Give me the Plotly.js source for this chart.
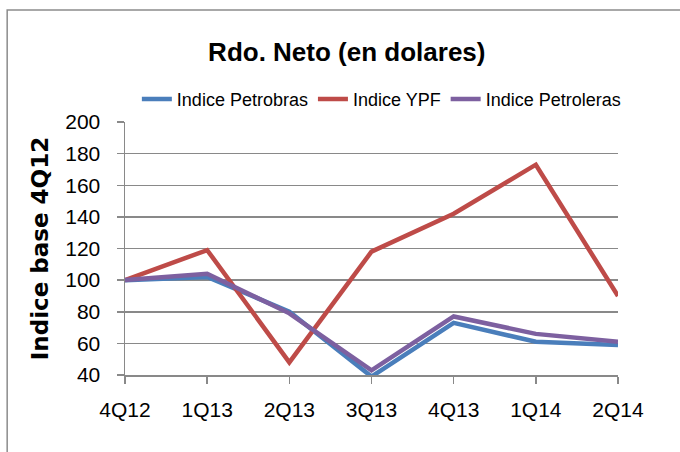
<!DOCTYPE html>
<html>
<head>
<meta charset="utf-8">
<script src="https://cdn.plot.ly/plotly-3.0.1.min.js"></script>
<style>
  html, body { margin: 0; padding: 0; background: #fff; }
  #chart { width: 680px; height: 452px; }
</style>
</head>
<body>
<div id="chart"></div>
<script>
const categories = ['4Q12', '1Q13', '2Q13', '3Q13', '4Q13', '1Q14', '2Q14'];
const petrobras  = [100, 102, 80, 39, 73, 61, 59];
const ypf        = [100, 119, 48, 118, 142, 173, 90];
const petroleras = [100, 104, 79, 43, 77, 66, 61];
const seriesNames = ['Indice Petrobras', 'Indice YPF', 'Indice Petroleras'];
const yTicks = [40, 60, 80, 100, 120, 140, 160, 180, 200];

const SANS = '"Liberation Sans", Arial, sans-serif';
const colors = ['#4A7EBB', '#BE4B48', '#7D60A0'];

const traces = [petrobras, ypf, petroleras].map((vals, i) => ({
  type: 'scatter',
  mode: 'lines',
  x: categories,
  y: vals,
  name: seriesNames[i],
  line: { color: colors[i], width: 4.5 },
  hoverinfo: 'skip'
}));

const layout = {
  width: 680,
  height: 452,
  margin: { l: 125, r: 62, t: 122, b: 77 },
  paper_bgcolor: '#ffffff',
  plot_bgcolor: '#ffffff',
  showlegend: true,
  title: {
    text: 'Rdo. Neto (en dolares)',
    font: { family: SANS, size: 26, color: '#000', weight: 'bold' },
    xref: 'container', x: 0.51, xanchor: 'center',
    yref: 'container', y: 0.885, yanchor: 'middle'
  },
  legend: {
    orientation: 'h',
    x: 0.52, xanchor: 'center',
    y: 1.09, yanchor: 'middle',
    font: { family: SANS, size: 18, color: '#000' },
    itemwidth: 30,
    itemgap: 12,
    traceorder: 'normal',
    bgcolor: 'rgba(0,0,0,0)'
  },
  xaxis: {
    type: 'category',
    range: [0, 6],
    showgrid: false,
    showline: true,
    linecolor: '#898989',
    linewidth: 1.5,
    ticks: 'outside',
    ticklen: 7,
    tickwidth: 1.5,
    tickcolor: '#898989',
    ticklabelstandoff: 8,
    tickfont: { family: SANS, size: 21, color: '#000' },
    fixedrange: true
  },
  yaxis: {
    range: [40, 200],
    tickvals: yTicks,
    ticktext: yTicks.map(String),
    showgrid: true,
    gridcolor: '#898989',
    gridwidth: 1.5,
    zeroline: false,
    showline: true,
    linecolor: '#898989',
    linewidth: 1.5,
    ticks: 'outside',
    ticklen: 7,
    tickwidth: 1.5,
    tickcolor: '#898989',
    ticklabelstandoff: 12,
    tickfont: { family: SANS, size: 21, color: '#000' },
    title: {
      text: 'Indice base 4Q12',
      font: { family: '"DejaVu Sans", sans-serif', size: 23, color: '#000', weight: 'bold' },
      standoff: 10
    },
    fixedrange: true
  },
  shapes: [{
    type: 'path',
    xref: 'paper', yref: 'paper',
    path: 'M -0.239,-1 L -0.239,1.443 L 1.3,1.443',
    line: { color: '#8c8c8c', width: 1.5 },
    layer: 'below'
  }]
};

Plotly.newPlot('chart', traces, layout, { staticPlot: true, displayModeBar: false });
</script>
</body>
</html>
